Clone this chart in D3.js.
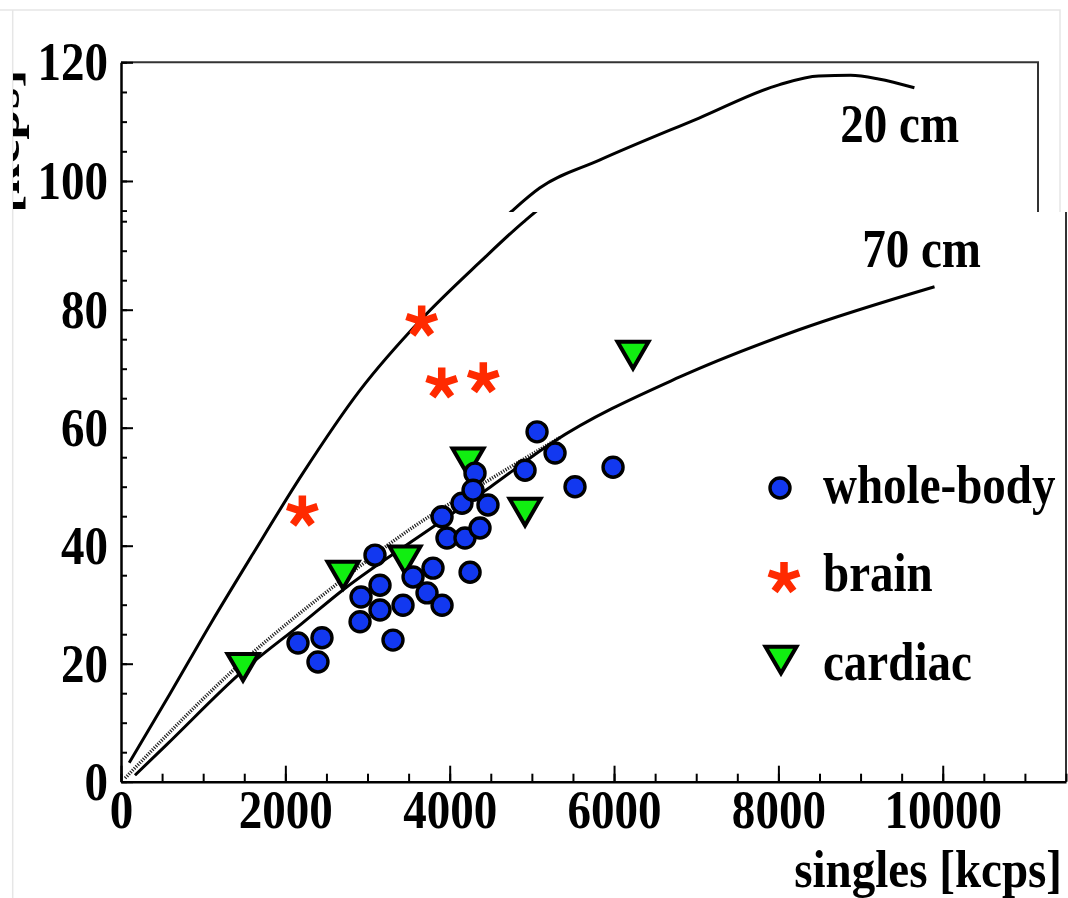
<!DOCTYPE html>
<html>
<head>
<meta charset="utf-8">
<script src="https://cdn.jsdelivr.net/npm/d3@7"></script>
<style>
  body { margin: 0; background: #fff; }
  text { font-family: "Liberation Serif", "Times New Roman", serif; font-weight: bold; }
</style>
</head>
<body>
<svg id="chart"></svg>
<script>
// measured values
var wholeBodyX = [2154, 2446, 2397, 2921, 2909, 3091, 3152, 3152, 3310, 3432, 3554, 3797, 3724, 3907,
                  4248, 3907, 3967, 4186, 4369, 4150, 4466, 4308, 4284, 4917, 5063, 5282, 5525, 5988];
var wholeBodyY = [23.5, 24.4, 20.3, 31.3, 27.1, 38.4, 33.3, 29.1, 24.0, 29.9, 34.7, 36.2, 32.0, 29.9,
                  35.5, 44.9, 41.3, 41.3, 43.0, 47.2, 46.9, 52.3, 49.4, 52.8, 59.3, 55.7, 50.0, 53.3];
var brainX = [2207, 3659, 3903, 4409];
var brainY = [45.8, 78.0, 67.5, 68.4];
var cardiacX = [1485, 2702, 3456, 4223, 4917, 6231];
var cardiacY = [19.4, 35.0, 37.6, 54.2, 45.7, 72.3];

var curve20X = [100, 600, 1100, 1600, 2200, 2900, 3650, 4370, 4900, 5250, 6000, 7250, 8250, 8750, 9150, 9500, 9950];
var curve20Y = [3.2, 15, 27, 38.5, 52, 66.2, 78.3, 88.1, 94.9, 98.8, 103.5, 110.6, 116.2, 117.7, 117.8, 117.2, 115.7];
var curve70X = [170, 550, 1500, 2200, 2700, 3800, 4500, 5250, 6800, 8250, 9900];
var curve70Y = [1.1, 6.2, 19.0, 26.8, 32.5, 43.2, 50.0, 57.5, 68.6, 76.6, 83.9];
var fitX = [50, 1500, 2700, 3550, 4450, 5350];
var fitY = [0.6, 20.6, 34.3, 43.1, 50.9, 58.4];

var xTicks = [0, 2000, 4000, 6000, 8000, 10000];
var yTicks = [0, 20, 40, 60, 80, 100, 120];
var legendLabels = ["whole-body", "brain", "cardiac"];
var curveLabels = ["20 cm", "70 cm"];
var xTitle = "singles [kcps]";
var yTitle = "[kcps]";

var sx = 0.855; // narrow text
var svg = d3.select("#chart").attr("width", 1068).attr("height", 898);
var defs = svg.append("defs");

var blue = "#1238f0", red = "#ff2a00", green = "#11ee11";

var asterisk5 = {
  draw: function(context, size) {
    var r = Math.sqrt(size);
    for (var i = 0; i < 5; i++) {
      var a = i * 2 * Math.PI / 5;
      context.moveTo(0, 0);
      context.lineTo(r * Math.sin(a), -r * Math.cos(a));
    }
  }
};
var triangleDown = {
  draw: function(context, size) {
    var w = Math.sqrt(size);
    context.moveTo(-w / 2, -w * 0.43);
    context.lineTo(w / 2, -w * 0.43);
    context.lineTo(0, w * 0.43);
    context.closePath();
  }
};

// faint scan borders
svg.append("path").attr("d", "M0,10H1060V212").attr("fill", "none").attr("stroke", "#e6e6e6").attr("stroke-width", 1.5);
svg.append("path").attr("d", "M12.7,10V898").attr("fill", "none").attr("stroke", "#e6e6e6").attr("stroke-width", 1.5);

var addText = function(parent, txt, x, y, anchor, size, scale) {
  return parent.append("text")
    .attr("transform", "translate(" + x + "," + y + ") scale(" + (scale || sx) + ",1)")
    .attr("text-anchor", anchor || "start")
    .attr("font-size", size || 55)
    .text(txt);
};

var drawMarkers = function(g, x, y) {
  g.selectAll("path.cardiac")
    .data(d3.zip(cardiacX, cardiacY))
    .join("path")
    .classed("cardiac", true)
    .attr("transform", function(d) { return "translate(" + x(d[0]) + "," + y(d[1]) + ")"; })
    .attr("d", d3.symbol().type(triangleDown).size(961))
    .attr("fill", green).attr("stroke", "#000").attr("stroke-width", 4).attr("stroke-linejoin", "miter");
  g.selectAll("circle.wb")
    .data(d3.zip(wholeBodyX, wholeBodyY))
    .join("circle")
    .classed("wb", true)
    .attr("cx", function(d) { return x(d[0]); })
    .attr("cy", function(d) { return y(d[1]); })
    .attr("r", 10)
    .attr("fill", blue).attr("stroke", "#000").attr("stroke-width", 3.4);
  g.selectAll("path.brain")
    .data(d3.zip(brainX, brainY))
    .join("path")
    .classed("brain", true)
    .attr("transform", function(d) { return "translate(" + x(d[0]) + "," + y(d[1]) + ")"; })
    .attr("d", d3.symbol().type(asterisk5).size(256))
    .attr("fill", "none").attr("stroke", red).attr("stroke-width", 7.5);
};

var drawSlice = function(s) {
  var top = s.clip[1], bottom = s.clip[1] + s.clip[3];
  var inside = function(py) { return py > top && py < bottom; };
  defs.append("clipPath").attr("id", "clip-" + s.name)
    .append("rect").attr("x", s.clip[0]).attr("y", top).attr("width", s.clip[2]).attr("height", s.clip[3]);
  var g = svg.append("g").attr("clip-path", "url(#clip-" + s.name + ")");
  var x = s.x, y = s.y;
  var x0 = x(0), x1 = x(11500), y0 = y(0), y1 = y(120);

  // frame top + right
  g.append("path")
    .attr("d", "M" + x0 + "," + y1 + "H" + x1 + "V" + y0)
    .attr("fill", "none").attr("stroke", "#333").attr("stroke-width", 2);

  // y axis
  g.append("g").attr("transform", "translate(" + x0 + ",0)")
    .call(d3.axisLeft(y).tickValues(d3.range(0, 121, 5)).tickSize(-6).tickFormat(""))
    .call(function(a) { a.select(".domain").remove(); a.selectAll("line").attr("stroke-width", 2); });
  var ya = g.append("g").attr("transform", "translate(" + x0 + ",0)")
    .call(d3.axisLeft(y).tickValues(yTicks).tickSize(-12).tickSizeOuter(0).tickPadding(13));
  ya.attr("font-size", 55).attr("font-family", null);
  ya.selectAll("line").attr("stroke-width", 2);
  ya.select(".domain").attr("stroke-width", 2.5);
  ya.selectAll("text").attr("x", -13 / sx).attr("transform", "scale(" + sx + ",1)");
  ya.selectAll(".tick").filter(function(d) { return !inside(y(d)); }).select("text").remove();

  // x axis
  g.append("g").attr("transform", "translate(0," + y0 + ")")
    .call(d3.axisBottom(x).tickValues(d3.range(0, 11501, 500)).tickSize(-8).tickFormat(""))
    .call(function(a) { a.select(".domain").remove(); a.selectAll("line").attr("stroke-width", 2); });
  var xa = g.append("g").attr("transform", "translate(0," + y0 + ")")
    .call(d3.axisBottom(x).tickValues(xTicks).tickSize(-16).tickSizeOuter(0).tickPadding(8).tickFormat(d3.format("d")));
  xa.attr("font-size", 54).attr("font-family", null);
  xa.selectAll("line").attr("stroke-width", 2);
  xa.select(".domain").attr("stroke-width", 2.5);
  xa.selectAll("text").attr("transform", "scale(" + (sx * 55 / 54) + ",1)");
  if (!inside(y0 + 30)) xa.selectAll("text").remove();

  // curves
  var line = d3.line()
    .x(function(d) { return x(d[0]); })
    .y(function(d) { return y(d[1]); })
    .curve(d3.curveMonotoneX);
  g.append("path").datum(d3.zip(fitX, fitY)).attr("d", line)
    .attr("fill", "none").attr("stroke", "#222").attr("stroke-width", 3.5).attr("stroke-dasharray", "1.2,1.4");
  g.append("path").datum(d3.zip(curve20X, curve20Y)).attr("d", line)
    .attr("fill", "none").attr("stroke", "#000").attr("stroke-width", 3);
  g.append("path").datum(d3.zip(curve70X, curve70Y)).attr("d", line)
    .attr("fill", "none").attr("stroke", "#000").attr("stroke-width", 3);

  if (inside(y(106.6))) addText(g, curveLabels[0], x(9020), y(106.6));
  if (inside(y(87.2))) addText(g, curveLabels[1], x(9020), y(87.2));

  drawMarkers(g, x, y);
  return g;
};

var topSlice = drawSlice({
  name: "top", clip: [13, 0, 1045, 212],
  x: d3.scaleLinear().domain([0, 11500]).range([121, 1038]),
  y: d3.scaleLinear().domain([0, 120]).range([774.3, 62.3])
});
drawSlice({
  name: "bottom", clip: [13, 212, 1055, 686],
  x: d3.scaleLinear().domain([0, 11500]).range([121, 1066]),
  y: d3.scaleLinear().domain([0, 120]).range([781.7, 73.7])
});

// y title, only its end survives in the scan
topSlice.append("text")
  .attr("transform", "translate(19,213) scale(" + sx + ",1) rotate(-90)")
  .attr("font-size", 55)
  .text(yTitle);

// x title
addText(svg, xTitle, 1062, 886.5, "end", 52, sx * 55 / 52);

// legend
var legend = svg.append("g");
legend.append("path").attr("transform", "translate(781,660)")
  .attr("d", d3.symbol().type(triangleDown).size(961))
  .attr("fill", green).attr("stroke", "#000").attr("stroke-width", 4);
legend.append("circle").attr("cx", 780).attr("cy", 488).attr("r", 10)
  .attr("fill", blue).attr("stroke", "#000").attr("stroke-width", 3.4);
legend.append("path").attr("transform", "translate(784,578)")
  .attr("d", d3.symbol().type(asterisk5).size(256))
  .attr("fill", "none").attr("stroke", red).attr("stroke-width", 7.5);
addText(legend, legendLabels[0], 823, 503);
addText(legend, legendLabels[1], 823, 591);
addText(legend, legendLabels[2], 823, 680);
</script>
</body>
</html>
